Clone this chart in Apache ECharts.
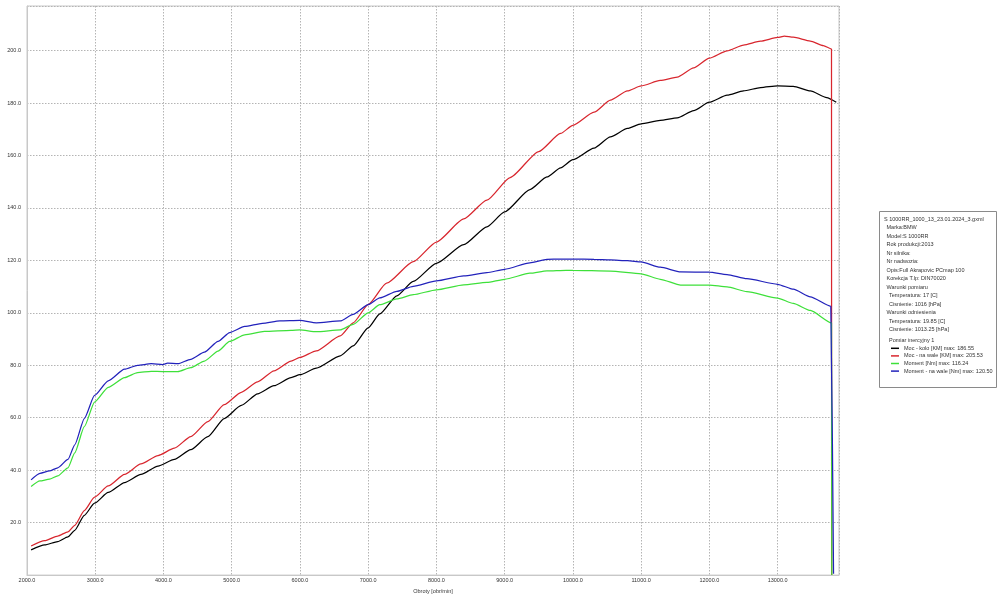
<!DOCTYPE html>
<html><head><meta charset="utf-8">
<script src="https://cdn.jsdelivr.net/npm/echarts@6/dist/echarts.min.js"></script>
<style>html,body{margin:0;padding:0;background:#fff}#c{width:1000px;height:599px}</style>
</head><body><div id="c"></div>
<script>
const seriesNames = ['Moc - kolo [KM] max: 186.55','Moc - na wale [KM] max: 205.53','Moment [Nm] max: 116.24','Moment - na wale [Nm] max: 120.50'];
const seriesColors = ['#000000','#d8262e','#3ee03a','#2222bb'];

const rpmPowerWheel = [2060,2260,2450,2600,2700,2840,2990,3190,3430,3670,3920,4160,4400,4650,4890,5140,5380,5620,5870,6000,6240,6590,6780,7000,7170,7420,7660,8000,8400,8740,9000,9370,9620,9820,10000,10310,10550,10800,11000,11280,11530,11770,12000,12260,12500,12750,13000,13230,13480,13720,13860];
const powerWheel = [9.6,11.5,12.8,14.6,17.1,22.8,27.4,31.5,35.3,38.4,41.6,44.1,47.8,52.8,59.7,64.7,69.1,72.2,75.3,76.4,78.9,83.6,87.4,94.3,99.6,106.5,112.0,118.9,126.0,132.8,138.5,147.0,151.8,155.3,158.4,162.8,167.1,170.3,172.1,173.4,174.3,177.1,180.3,183.0,184.6,185.9,186.55,186.4,184.6,182.1,180.3];

const rpmPowerCrank = [2060,2260,2450,2600,2700,2840,2990,3190,3430,3670,3920,4160,4400,4650,4890,5140,5380,5620,5870,6000,6240,6590,6780,7000,7270,7660,8000,8400,8740,9080,9500,9820,10000,10310,10550,10800,11000,11280,11530,11770,12000,12260,12500,12750,13000,13100,13230,13480,13670,13790,13792];
const powerCrank = [11.1,13.1,14.9,16.5,19.0,24.6,29.7,34.0,38.4,42.4,45.6,48.4,52.8,58.5,65.0,69.7,73.7,77.9,81.6,83.0,85.5,91.2,96.2,103.1,111.3,119.5,127.0,135.8,143.0,151.6,161.5,168.4,171.5,176.5,181.1,184.6,186.5,188.6,189.9,193.4,197.1,199.9,202.1,203.6,205.0,205.53,205.1,203.6,201.9,200.6,0];

const rpmTorque = [2060,2190,2330,2450,2600,2700,2840,2990,3190,3430,3620,3820,3990,4210,4400,4600,4800,4970,5190,5480,5870,6000,6240,6590,6780,7000,7170,7420,7660,8000,8400,8740,9000,9370,9620,9900,10000,10550,11000,11280,11580,12000,12260,12550,13000,13230,13480,13790,13795];
const torque = [33.8,35.9,36.6,37.8,40.9,46.6,56.6,66.0,71.6,75.3,77.2,77.7,77.6,77.6,79.1,81.6,85.4,89.1,91.6,92.9,93.3,93.5,92.8,93.5,95.6,100.0,103.1,105.3,106.9,108.8,110.7,111.6,112.8,115.1,116.0,116.24,116.2,115.9,114.9,112.8,110.6,110.6,109.9,108.1,105.6,103.6,100.9,96.2,0];

const rpmTorqueCrank = [2060,2190,2330,2450,2600,2700,2840,2990,3190,3430,3620,3820,3990,4060,4210,4400,4600,4800,4970,5190,5450,5707,6000,6240,6590,6780,7000,7170,7420,7660,8000,8400,8740,9000,9370,9620,9820,10000,10310,10550,10800,11000,11280,11580,12000,12260,12550,13000,13230,13480,13780,13820];
const torqueCrank = [36.3,38.8,39.7,40.9,44.1,49.7,59.7,68.5,74.1,78.5,80.0,80.6,80.3,80.8,80.6,82.3,85.0,89.1,92.5,94.8,96.0,96.9,97.1,96.2,96.9,99.4,103.1,105.7,108.2,110.1,112.2,114.1,115.3,116.6,119.1,120.4,120.5,120.5,120.4,120.2,119.9,119.4,117.4,115.6,115.5,114.6,113.0,110.9,109.0,106.1,102.5,0.5];

const infoLines = ['S 1000RR_1000_13_23.01.2024_3.gxml','Marka:BMW','Model:S 1000RR','Rok produkcji:2013','Nr silnika:','Nr nadwozia:','Opis:Full Akrapovic PCmap 100','Korekcja T.lp: DIN70020','Warunki pomiaru','Temperatura: 17 [C]','Cisnienie: 1016 [hPa]','Warunki odniesienia','Temperatura: 19.85 [C]','Cisnienie: 1013.25 [hPa]','Pomiar inercyjny 1'];
const infoIndent = [0,1,1,1,1,1,1,1,1,2,2,1,2,2,2];

const xs = [rpmPowerWheel, rpmPowerCrank, rpmTorque, rpmTorqueCrank];
const ys = [powerWheel, powerCrank, torque, torqueCrank];

const FONT = 'Liberation Sans';
const chart = echarts.init(document.getElementById('c'), null, {renderer:'canvas'});

const graphics = [{type:'rect', shape:{x:879.5,y:211.5,width:117,height:176}, style:{fill:'#fff', stroke:'#8a8a8a', lineWidth:1}, z:0}];
infoLines.forEach((t,i)=>{
  const y = i < 14 ? 219.3 + i*8.5 : 340;
  graphics.push({type:'text', x: 884 + infoIndent[i]*2.5, y: y, style:{text:t, font:'5.5px "'+FONT+'"', fill:'#333', verticalAlign:'middle', textAlign:'left'}, z:2});
});

chart.setOption({
  animation:false,
  backgroundColor:'#fff',
  grid:{left:27, right:161, top:6, bottom:17, show:true, borderColor:'#c8c8c8', borderWidth:1, backgroundColor:'#fff'},
  legend:{orient:'vertical', left:891, top:344.5, padding:0, itemGap:0, itemWidth:8, itemHeight:1.5, icon:'rect',
    data: seriesNames, textStyle:{fontSize:5.5, fontFamily:FONT, color:'#333', lineHeight:7.6}, z:3},
  xAxis:{type:'value', min:2000, max:13900, interval:1000,
    name:'Obroty [obr/min]', nameLocation:'middle', nameGap:7,
    nameTextStyle:{fontSize:5.5, fontFamily:FONT, color:'#333'},
    axisLine:{show:true, lineStyle:{color:'#c8c8c8'}}, axisTick:{show:false},
    axisLabel:{fontSize:5.5, fontFamily:FONT, color:'#333', margin:2, formatter:v=> v%1000===0 && v<=13000 ? v.toFixed(1) : ''},
    splitLine:{show:true, lineStyle:{color:'#b4b4b4', type:[1.5,1.5], width:1}}},
  yAxis:{type:'value', min:0, max:217, interval:20,
    axisLine:{show:true, lineStyle:{color:'#c8c8c8'}}, axisTick:{show:false},
    axisLabel:{fontSize:5.5, fontFamily:FONT, color:'#333', margin:6, formatter:v=> (v>0 && v%20===0) ? v.toFixed(1) : ''},
    splitLine:{show:true, lineStyle:{color:'#b4b4b4', type:[1.5,1.5], width:1}}},
  series: seriesNames.map((n,k)=>({
    name:n, type:'line', showSymbol:false, symbol:'none', smooth:0.2, smoothMonotone:'x',
    lineStyle:{color:seriesColors[k], width:1.25}, itemStyle:{color:seriesColors[k]},
    data: xs[k].map((x,i)=>[x, ys[k][i]]), z:2
  })),
  graphic: graphics
});
</script></body></html>
